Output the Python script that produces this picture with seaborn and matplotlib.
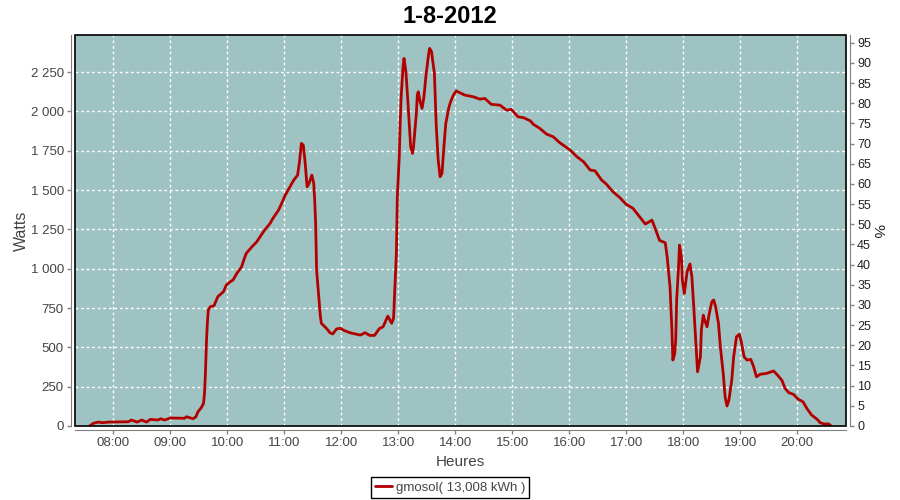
import pandas as pd
import matplotlib.pyplot as plt
import matplotlib.dates as mdates
from matplotlib.patches import Rectangle
from matplotlib.ticker import FuncFormatter, MultipleLocator
import seaborn as sns

# données (heure, puissance en W)
heures = ['07:35', '07:39', '07:44', '07:49', '07:55', '08:16', '08:19', '08:25', '08:30', '08:35',
          '08:39', '08:47', '08:50', '08:54', '09:00', '09:15', '09:17', '09:24', '09:27', '09:29',
          '09:33', '09:35', '09:36', '09:37', '09:38', '09:39', '09:40', '09:42', '09:46', '09:50',
          '09:56', '09:59', '10:03', '10:06', '10:10', '10:15', '10:18', '10:20', '10:26', '10:31',
          '10:38', '10:45', '10:48', '10:54', '10:58', '11:01', '11:06', '11:10', '11:14', '11:16',
          '11:18', '11:20', '11:22', '11:24', '11:26', '11:29', '11:31', '11:32', '11:33', '11:34',
          '11:36', '11:38', '11:39', '11:45', '11:48', '11:51', '11:55', '11:59', '12:02', '12:09',
          '12:20', '12:25', '12:30', '12:35', '12:40', '12:44', '12:49', '12:53', '12:55', '12:56',
          '12:58', '12:59', '13:01', '13:02', '13:03', '13:05', '13:06', '13:08', '13:10', '13:12',
          '13:13', '13:15', '13:16', '13:19', '13:20', '13:21', '13:23', '13:25', '13:27', '13:29',
          '13:32', '13:33', '13:35', '13:38', '13:40', '13:42', '13:44', '13:46', '13:48', '13:50',
          '13:53', '13:55', '13:58', '14:01', '14:05', '14:10', '14:19', '14:26', '14:31', '14:38',
          '14:47', '14:54', '14:59', '15:06', '15:12', '15:19', '15:22', '15:29', '15:36', '15:43',
          '15:50', '16:01', '16:08', '16:15', '16:22', '16:27', '16:34', '16:39', '16:46', '16:53',
          '17:00', '17:07', '17:14', '17:20', '17:27', '17:30', '17:35', '17:41', '17:43', '17:46',
          '17:48', '17:49', '17:51', '17:52', '17:53', '17:55', '17:56', '17:58', '17:59', '18:01',
          '18:02', '18:04', '18:07', '18:09', '18:11', '18:13', '18:15', '18:18', '18:19', '18:21',
          '18:23', '18:25', '18:27', '18:30', '18:32', '18:34', '18:37', '18:39', '18:42', '18:44',
          '18:46', '18:48', '18:51', '18:53', '18:56', '18:59', '19:01', '19:04', '19:07', '19:11',
          '19:14', '19:17', '19:21', '19:28', '19:35', '19:40', '19:44', '19:47', '19:51', '19:56',
          '20:01', '20:06', '20:10', '20:15', '20:21', '20:24', '20:28', '20:33', '20:35']
watts = [0, 17, 25, 21, 25, 27, 38, 25, 38, 25,
         42, 38, 46, 38, 51, 49, 59, 46, 59, 89,
         120, 144, 208, 335, 525, 653, 737, 758, 765, 822,
         854, 896, 917, 928, 970, 1012, 1066, 1098, 1140, 1171,
         1235, 1288, 1320, 1373, 1426, 1468, 1521, 1564, 1595, 1680,
         1797, 1786, 1670, 1521, 1542, 1595, 1542, 1436, 1288, 992,
         843, 695, 653, 617, 593, 585, 617, 621, 610, 593,
         578, 593, 576, 576, 619, 631, 699, 653, 685, 822,
         1098, 1457, 1712, 1924, 2093, 2284, 2337, 2252, 2072, 1881,
         1775, 1733, 1775, 1987, 2104, 2125, 2061, 2019, 2093, 2220,
         2369, 2401, 2379, 2242, 1902, 1691, 1585, 1606, 1775, 1924,
         2019, 2061, 2104, 2131, 2118, 2104, 2093, 2078, 2083, 2045,
         2040, 2008, 2013, 1966, 1960, 1940, 1919, 1892, 1856, 1839,
         1801, 1754, 1712, 1680, 1627, 1623, 1564, 1538, 1489, 1453,
         1409, 1384, 1330, 1284, 1309, 1262, 1180, 1165, 1076, 885,
         610, 419, 462, 547, 801, 1012, 1150, 1076, 928, 843,
         885, 981, 1030, 949, 758, 547, 345, 440, 610, 705,
         663, 631, 705, 790, 801, 758, 653, 504, 335, 186,
         127, 165, 292, 440, 568, 583, 536, 440, 419, 424,
         377, 313, 329, 335, 350, 318, 288, 240, 212, 201,
         170, 154, 112, 70, 42, 21, 13, 13, 4]

titre = '1-8-2012'
serie = 'gmosol( 13,008 kWh )'
jour = '2012-08-01 '

sns.set_style('ticks')
plt.rcParams['font.family'] = ['Liberation Sans', 'DejaVu Sans']

df = pd.DataFrame({'Heure': pd.to_datetime([jour + h for h in heures]), 'Watts': watts})

fond = '#9fc3c2'
gris = '#808080'
texte = '#444444'

fig = plt.figure(figsize=(9, 5), dpi=100)
ax = fig.add_axes([75 / 900, 1 - 426 / 500, 771 / 900, 391 / 500])
ax.set_facecolor(fond)

sns.lineplot(data=df, x='Heure', y='Watts', ax=ax, color='#b20000', lw=2.0, label=serie, legend=False)

ax.set_xlim(pd.Timestamp(jour + '07:19:42'), pd.Timestamp(jour + '20:51:15'))
ax.set_ylim(0, 2486)
ax.yaxis.set_major_locator(MultipleLocator(250))
ax.yaxis.set_major_formatter(FuncFormatter(lambda v, p: f'{v:,.0f}'.replace(',', ' ')))
ax.xaxis.set_major_locator(mdates.HourLocator())
ax.xaxis.set_major_formatter(mdates.DateFormatter('%H:%M'))

ax.grid(True, color='white', ls=(0, (2, 2)), lw=1)
for s in ['top', 'right']:
    ax.spines[s].set_visible(False)
for s in ['left', 'bottom']:
    ax.spines[s].set_position(('outward', 3))
    ax.spines[s].set_color(gris)
ax.tick_params(colors=gris, labelcolor=texte, labelsize=9.5, length=3, width=1, pad=2)
ax.set_xlabel('Heures', fontsize=11, color=texte, labelpad=4)
ax.set_ylabel('Watts', fontsize=11.5, color=texte, labelpad=1)
ax.add_patch(Rectangle((0, 0), 1, 1, transform=ax.transAxes, fill=False,
                       ec='black', lw=1.2, zorder=5, clip_on=False))

# axe de droite en %
ax2 = ax.twinx()
ax2.set_ylim(0, 96.9)
ax2.yaxis.set_major_locator(MultipleLocator(5))
for s in ['top', 'left', 'bottom']:
    ax2.spines[s].set_visible(False)
ax2.spines['right'].set_position(('outward', 3))
ax2.spines['right'].set_color(gris)
ax2.tick_params(colors=gris, labelcolor='#222222', labelsize=9, length=3, width=1, pad=2)
ax2.set_ylabel('%', fontsize=11, color='#222222', rotation=270, labelpad=10)
ax2.grid(False)

fig.suptitle(titre, fontsize=17, fontweight='bold', color='black', y=0.99)

h, l = ax.get_legend_handles_labels()
leg = fig.legend(h, l, loc='center', bbox_to_anchor=(0.5, 1 - 487.5 / 500), fontsize=9.5,
                 frameon=True, fancybox=False, edgecolor='black', framealpha=1,
                 handlelength=1.3, handletextpad=0.3, borderpad=0.3, labelcolor=texte)
leg.get_frame().set_linewidth(1)

fig.savefig('out.png', dpi=100)
